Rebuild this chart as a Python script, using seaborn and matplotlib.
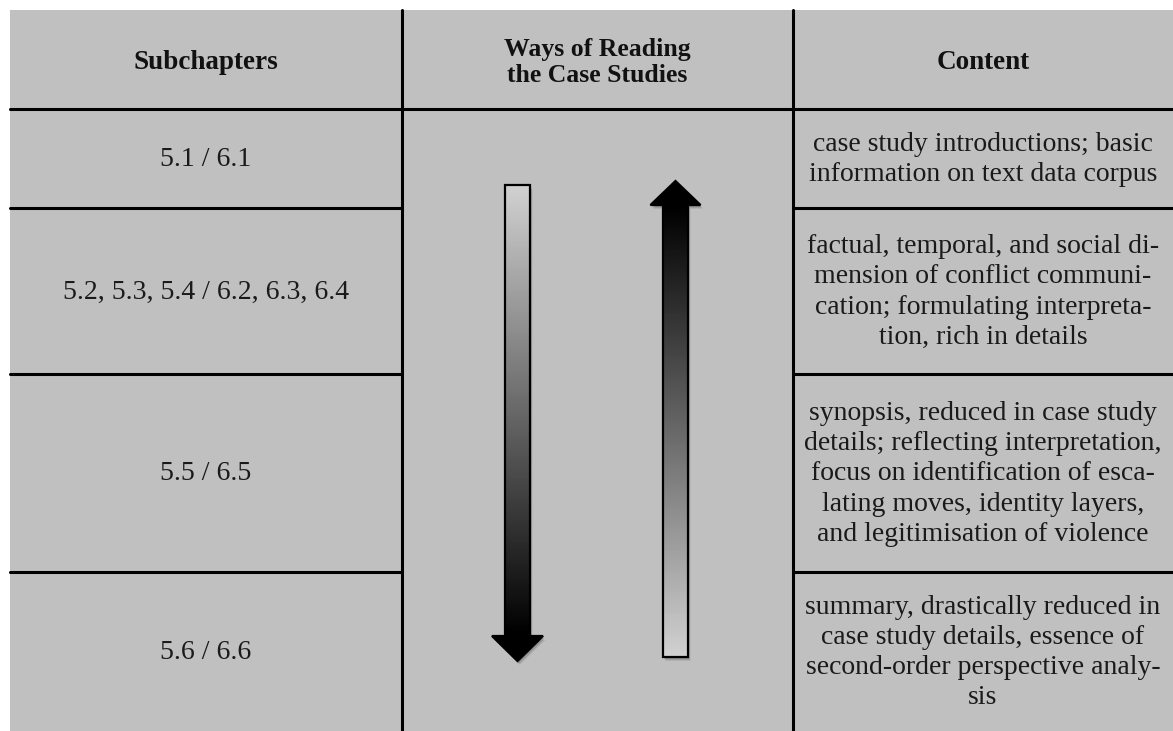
import numpy as np
import matplotlib.pyplot as plt
import seaborn as sns
from matplotlib.patches import Polygon, Rectangle

# ========== Datos ==========
headers = ["Subchapters", "Ways of Reading\nthe Case Studies", "Content"]
subchapters = ["5.1 / 6.1", "5.2, 5.3, 5.4 / 6.2, 6.3, 6.4", "5.5 / 6.5", "5.6 / 6.6"]
content = [
    "case study introductions; basic\ninformation on text data corpus",
    "factual, temporal, and social di-\nmension of conflict communi-\ncation; formulating interpreta-\ntion, rich in details",
    "synopsis, reduced in case study\ndetails; reflecting interpretation,\nfocus on identification of esca-\nlating moves, identity layers,\nand legitimisation of violence",
    "summary, drastically reduced in\ncase study details, essence of\nsecond-order perspective analy-\nsis",
]

# ---------- Estilo ----------
sns.set_theme(style="white")
plt.rcParams['font.family'] = ['Liberation Serif', 'DejaVu Serif']

W, H = 1173, 731
fig = plt.figure(figsize=(W / 100, H / 100), dpi=100)
ax = fig.add_axes([0, 0, 1, 1])
ax.set_xlim(0, W)
ax.set_ylim(H, 0)
ax.axis('off')

bg = '#c0c0c0'
ax.add_patch(Rectangle((10, 10), W - 10, H - 10, facecolor=bg, edgecolor='none', zorder=0))

# ---------- Lineas de la tabla ----------
col_x = [10, 402, 793, W]
row_y = [10, 109, 208, 374, 572, H]
lw = 2.2
for x in col_x[1:3]:
    ax.plot([x, x], [10, H], color='black', lw=lw, zorder=3)
ax.plot([10, W], [row_y[1], row_y[1]], color='black', lw=lw, zorder=3)
for y in row_y[2:5]:
    ax.plot([col_x[0], col_x[1]], [y, y], color='black', lw=lw, zorder=3)
    ax.plot([col_x[2], col_x[3]], [y, y], color='black', lw=lw, zorder=3)

# ---------- Textos ----------
centers_x = [(col_x[i] + col_x[i + 1]) / 2 for i in range(3)]
header_y = (row_y[0] + row_y[1]) / 2 + 3
header_sizes = [19.5, 18.5, 19.5]
for cx, h, fs in zip(centers_x, headers, header_sizes):
    ax.text(cx, header_y, h, ha='center', va='center', fontsize=fs,
            fontweight='bold', color='#111111', linespacing=1.12)

for i, (s, c) in enumerate(zip(subchapters, content)):
    cy = (row_y[i + 1] + row_y[i + 2]) / 2 + 1
    ax.text(centers_x[0], cy, s, ha='center', va='center',
            fontsize=20, color='#1a1a1a')
    ax.text(centers_x[2], cy, c, ha='center', va='center', fontsize=20,
            color='#1a1a1a', linespacing=1.28)


# ---------- Flechas con degradado ----------
def gradient_arrow(cx, y_start, y_base, y_tip, shaft_w, head_w, light, dark):
    hw, hh = shaft_w / 2, head_w / 2
    pts = [(cx - hw, y_start), (cx + hw, y_start), (cx + hw, y_base),
           (cx + hh, y_base), (cx, y_tip), (cx - hh, y_base), (cx - hw, y_base)]
    # sombra
    for off, a in [(4, 0.08), (3, 0.10), (2, 0.12)]:
        sh = Polygon([(px + off * 0.6, py + off) for px, py in pts], closed=True,
                     facecolor='black', edgecolor='none', alpha=a, zorder=4)
        ax.add_patch(sh)
    poly = Polygon(pts, closed=True, facecolor='none', edgecolor='black', lw=1.6, zorder=6)
    ax.add_patch(poly)
    y0, y1 = min(y_start, y_tip), max(y_start, y_tip)
    n = 200
    ys = np.linspace(y0, y1, n)
    t = np.clip((ys - y_start) / (y_base - y_start), 0, 1)
    vals = light + (dark - light) * t
    grad = vals.reshape(-1, 1)
    im = ax.imshow(grad, cmap='gray', vmin=0, vmax=1, aspect='auto',
                   extent=[cx - hh - 1, cx + hh + 1, y1, y0], zorder=5,
                   interpolation='bilinear')
    clip = Polygon(pts, closed=True, transform=ax.transData)
    im.set_clip_path(clip)


gradient_arrow(517.5, 185, 636, 661, 25, 51, 0.82, 0.0)
gradient_arrow(675.5, 657, 205, 181, 25, 50, 0.82, 0.0)
ax.set_xlim(0, W)
ax.set_ylim(H, 0)

fig.savefig('out.png', dpi=100, facecolor='white')
